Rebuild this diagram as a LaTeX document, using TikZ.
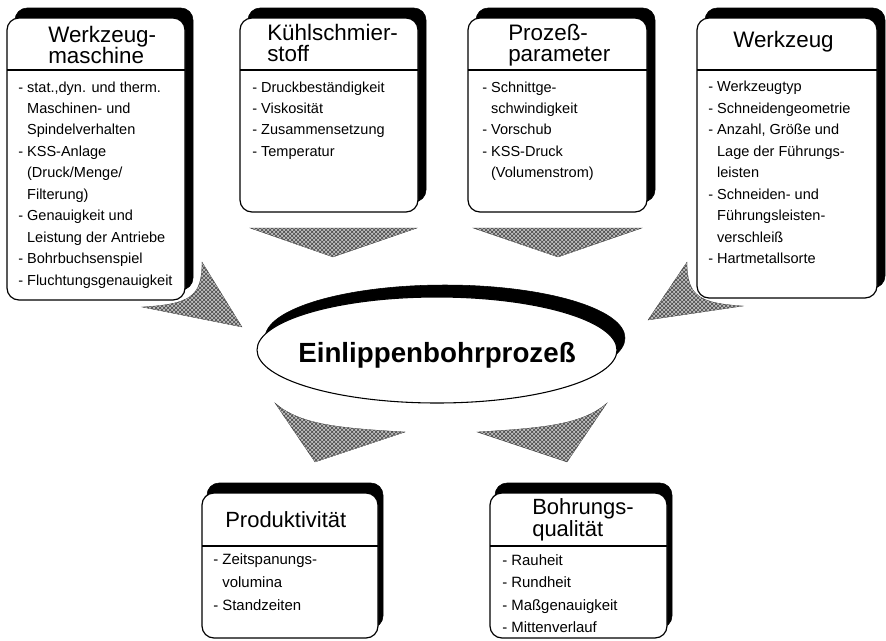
\documentclass[tikz,border=0pt]{standalone}
\usepackage{fontspec}
\setmainfont{Liberation Sans}
\usepackage{tikz}
\usetikzlibrary{patterns}

\newcommand{\einr}{\hphantom{-\ }}

\tikzset{
  schatten/.style={fill=black, rounded corners=9pt},
  kasten/.style={draw=black, line width=0.9pt, fill=white, rounded corners=9pt},
  trenner/.style={draw=black, line width=0.8pt},
  raster/.style={preaction={fill=gray!50}, pattern=crosshatch, pattern color=gray!55!black, draw=gray!50!black, line width=0.2pt},
  kopf/.style={anchor=base west, inner sep=0.75pt, align=left, font=\fontsize{16.8}{16.1}\selectfont},
  liste/.style={anchor=base west, inner sep=0.75pt, align=left, font=\fontsize{10.9}{16.1}\selectfont},
  kopfu/.style={anchor=base west, inner sep=0.75pt, align=left, font=\fontsize{16.5}{15.8}\selectfont},
  listeu/.style={anchor=base west, inner sep=0.75pt, align=left, font=\fontsize{11.2}{16.9}\selectfont},
}

\begin{document}
\begin{tikzpicture}[x=0.75pt,y=0.75pt,yscale=-1,xscale=1]
        \useasboundingbox (0,0) rectangle (886,640);

        %Shape: Rounded Rect (Werkzeugmaschine)
        \draw [schatten] (15,8) rectangle (193,290);
        \draw [kasten] (7,18) rectangle (185,300);
        \draw [trenner] (7,70) -- (185,70);
        %Shape: Rounded Rect (Kuehlschmierstoff)
        \draw [schatten] (248,8) rectangle (426,202);
        \draw [kasten] (240,18) rectangle (418,212);
        \draw [trenner] (240,70) -- (418,70);
        %Shape: Rounded Rect (Prozessparameter)
        \draw [schatten] (476,8) rectangle (655,202);
        \draw [kasten] (468,18) rectangle (647,212);
        \draw [trenner] (468,70) -- (647,70);
        %Shape: Rounded Rect (Werkzeug)
        \draw [schatten] (705,8) rectangle (885,288);
        \draw [kasten] (697,18) rectangle (877,298);
        \draw [trenner] (697,70) -- (877,70);
        %Shape: Rounded Rect (Produktivitaet)
        \draw [schatten] (207,483) rectangle (383,628);
        \draw [kasten] (202,493) rectangle (378,638);
        \draw [trenner] (202,546) -- (378,546);
        %Shape: Rounded Rect (Bohrungsqualitaet)
        \draw [schatten] (495,483) rectangle (672,628);
        \draw [kasten] (490,493) rectangle (667,638);
        \draw [trenner] (490,546) -- (667,546);

        %Shape: Ellipse
        \draw [fill=black] (445,338) ellipse (180 and 53);
        \draw [fill=white, line width=0.8pt] (437,350) ellipse (180 and 53);

        %Shape: Path Data (Pfeile oben)
        \draw [raster] (250,228) -- (417,228) -- (333,257) -- cycle;
        \draw [raster] (473,228) -- (642,228) -- (558,257) -- cycle;
        %Shape: Path Data (Pfeile seitlich)
        \draw [raster] (202,262) .. controls (202,297) and (190,304) .. (142,307) -- (242,327) -- cycle;
        \draw [raster] (687,262) .. controls (687,297) and (700,303) .. (743,306) -- (648,320) -- cycle;
        %Shape: Path Data (Pfeile unten)
        \draw [raster] (275,403) .. controls (300,425) and (340,428) .. (405,432) -- (315,462) -- cycle;
        \draw [raster] (607,403) .. controls (582,425) and (542,428) .. (477,432) -- (567,462) -- cycle;

        % Text Node (coordinates give the baseline of the last line)
        \draw (47,63.5) node [kopf] (wzmkopf) {Werkzeug-\\maschine};
        % Text Node
        \draw (17,285.2) node [liste] (wzmliste) {- stat.,dyn. und therm.\\ \einr Maschinen- und\\ \einr Spindelverhalten\\ - KSS-Anlage\\ \einr (Druck/Menge/\\ \einr Filterung)\\ - Genauigkeit und\\ \einr Leistung der Antriebe\\ - Bohrbuchsenspiel\\ - Fluchtungsgenauigkeit};
        % Text Node
        \draw (266,61.5) node [kopf] (ksskopf) {Kühlschmier-\\stoff};
        % Text Node
        \draw (251,156.4) node [liste] (kssliste) {- Druckbeständigkeit\\ - Viskosität\\ - Zusammensetzung\\ - Temperatur};
        % Text Node
        \draw (507,61.5) node [kopf] (ppkopf) {Prozeß-\\parameter};
        % Text Node
        \draw (481,177.9) node [liste] (ppliste) {- Schnittge-\\ \einr schwindigkeit\\ - Vorschub\\ - KSS-Druck\\ \einr (Volumenstrom)};
        % Text Node
        \draw (732,47) node [kopf] (wzkopf) {Werkzeug};
        % Text Node
        \draw (707,263.7) node [liste] (wzliste) {- Werkzeugtyp\\ - Schneidengeometrie\\ - Anzahl, Größe und\\ \einr Lage der Führungs-\\ \einr leisten\\ - Schneiden- und\\ \einr Führungsleisten-\\ \einr verschleiß\\ - Hartmetallsorte};
        % Text Node
        \draw (437,362) node [anchor=base, inner sep=0.75pt, font=\fontsize{20.8}{25}\selectfont\bfseries] (prozess) {Einlippenbohrprozeß};
        % Text Node
        \draw (224,527) node [kopfu] (prodkopf) {Produktivität};
        % Text Node
        \draw (212,610) node [listeu] (prodliste) {- Zeitspanungs-\\ \einr volumina\\ - Standzeiten};
        % Text Node
        \draw (531,536) node [kopfu] (bqkopf) {Bohrungs-\\qualität};
        % Text Node
        \draw (501,632.6) node [listeu] (bqliste) {- Rauheit\\ - Rundheit\\ - Maßgenauigkeit\\ - Mittenverlauf};

\end{tikzpicture}
\end{document}
